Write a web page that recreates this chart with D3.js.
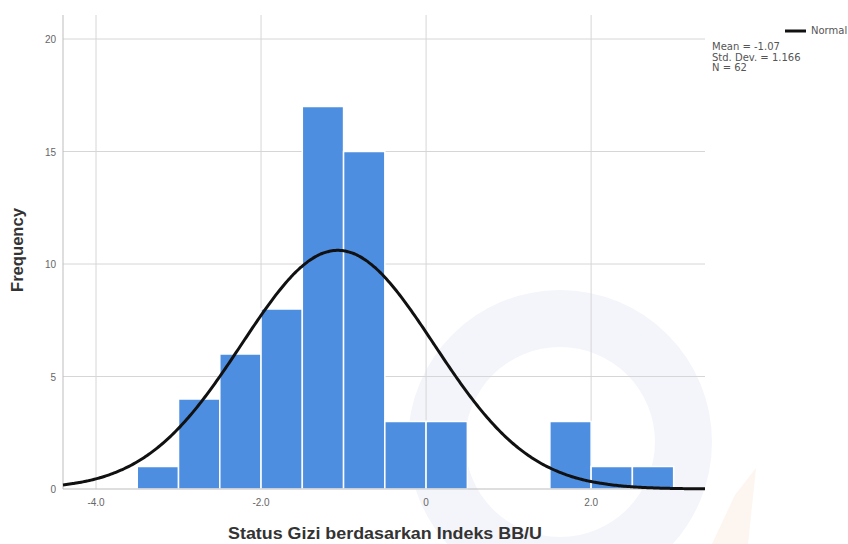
<!DOCTYPE html>
<html><head><meta charset="utf-8">
<script src="https://cdn.jsdelivr.net/npm/d3@7"></script>
<style>body{margin:0;background:#fff}svg{display:block}text{font-family:"Liberation Sans",Arial,sans-serif}</style>
</head><body>
<svg id="c" width="848" height="544"></svg>
<script>
const binStarts = [-3.5,-3.0,-2.5,-2.0,-1.5,-1.0,-0.5,0.0,0.5,1.0,1.5,2.0,2.5];
const counts    = [1,4,6,8,17,15,3,3,0,0,3,1,1];
const binWidth = 0.5;
const xTicks = [-4,-2,0,2];
const xTickLabels = ["-4.0","-2.0","0","2.0"];
const yTicks = [0,5,10,15,20];
const stats = {mean:-1.07, sd:1.166, n:62};
const statLines = ["Mean = -1.07","Std. Dev. = 1.166","N = 62"];

const svg = d3.select("#c");
const L=63,R=705,T=15,B=489;
const x = d3.scaleLinear().domain([-4.4,3.38]).range([L,R]);
const y = d3.scaleLinear().domain([0,20]).range([B,39]);

// faint watermark
const wm = svg.append("g");
wm.append("path")
  .attr("d", d3.arc().innerRadius(95).outerRadius(152).startAngle(0).endAngle(2*Math.PI)())
  .attr("transform","translate(560,442)").attr("fill","#f4f5fa");
wm.append("path").attr("d","M712,544 L735,495 L756,468 L748,544 Z").attr("fill","#fdf5f0");

// gridlines
svg.append("g").selectAll("line").data(yTicks.filter(d=>d>0)).join("line")
  .attr("x1",L).attr("x2",R).attr("y1",d=>y(d)).attr("y2",d=>y(d))
  .attr("stroke","#d6d6d6").attr("stroke-width",1);
svg.append("g").selectAll("line").data(xTicks).join("line")
  .attr("x1",d=>x(d)).attr("x2",d=>x(d)).attr("y1",T).attr("y2",B)
  .attr("stroke","#d6d6d6").attr("stroke-width",1);

// bars
svg.append("g").selectAll("rect").data(binStarts.map((s,i)=>({s,c:counts[i]})).filter(d=>d.c>0)).join("rect")
  .attr("x",d=>x(d.s)).attr("width",d=>x(d.s+binWidth)-x(d.s))
  .attr("y",d=>y(d.c)).attr("height",d=>y(0)-y(d.c))
  .attr("fill","#4d8ee0").attr("stroke","#ffffff").attr("stroke-width",1.5);

// axes lines
svg.append("line").attr("x1",L).attr("x2",L).attr("y1",T).attr("y2",B).attr("stroke","#bdbdbd");
svg.append("line").attr("x1",L).attr("x2",R).attr("y1",B).attr("y2",B).attr("stroke","#bdbdbd");

// normal curve
const pts = d3.range(-4.4,3.38001,0.02).map(v=>[v, stats.n*binWidth*Math.exp(-0.5*((v-stats.mean)/stats.sd)**2)/(stats.sd*Math.sqrt(2*Math.PI))]);
svg.append("path").datum(pts)
  .attr("d",d3.line().x(d=>x(d[0])).y(d=>y(d[1])).curve(d3.curveBasis))
  .attr("fill","none").attr("stroke","#111").attr("stroke-width",3);

// tick labels
svg.append("g").selectAll("text").data(yTicks).join("text")
  .attr("x",56).attr("y",d=>y(d)+4).attr("text-anchor","end")
  .attr("font-size",10).attr("fill","#666").text(d=>d);
svg.append("g").selectAll("text").data(xTicks).join("text")
  .attr("x",d=>x(d)).attr("y",506).attr("text-anchor","middle")
  .attr("font-size",10).attr("fill","#666").text((d,i)=>xTickLabels[i]);

// axis titles
svg.append("text").attr("transform","translate(23,250) rotate(-90)").attr("text-anchor","middle")
  .attr("font-size",16).attr("font-weight","bold").attr("fill","#333")
  .attr("textLength",84).attr("lengthAdjust","spacingAndGlyphs").text("Frequency");
svg.append("text").attr("x",385).attr("y",539).attr("text-anchor","middle")
  .attr("font-size",16).attr("font-weight","bold").attr("fill","#333")
  .attr("textLength",314).attr("lengthAdjust","spacingAndGlyphs").text("Status Gizi berdasarkan Indeks BB/U");

// legend
svg.append("line").attr("x1",785).attr("x2",806).attr("y1",31).attr("y2",31).attr("stroke","#111").attr("stroke-width",3);
svg.append("text").attr("x",811).attr("y",34).attr("font-size",10).attr("fill","#555")
  .style("font-family","DejaVu Sans").text("Normal");
svg.append("g").selectAll("text").data(statLines).join("text")
  .attr("x",712).attr("y",(d,i)=>50+i*10.5).attr("font-size",10).attr("fill","#555")
  .style("font-family","DejaVu Sans").text(d=>d);
</script>
</body></html>
